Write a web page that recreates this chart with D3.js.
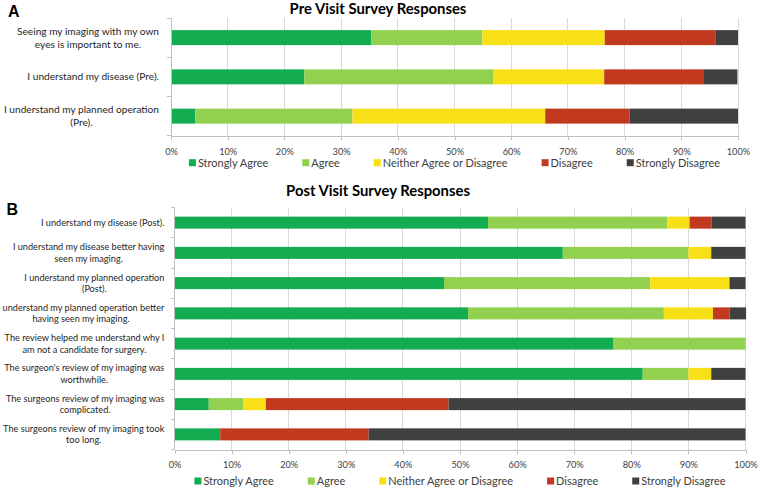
<!DOCTYPE html>
<html><head><meta charset="utf-8">
<script src="https://cdn.jsdelivr.net/npm/d3@7"></script>
<style>body{margin:0;background:#fff} svg{display:block}</style>
</head><body>
<svg id="chart" width="760" height="488"></svg>
<script>
// ---------- data ----------
const seriesNames = ["Strongly Agree", "Agree", "Neither Agree or Disagree", "Disagree", "Strongly Disagree"];
const seriesColors = ["#13AC50", "#92D050", "#F8E016", "#C1391F", "#404040"];
const tickValues = [0, 10, 20, 30, 40, 50, 60, 70, 80, 90, 100];
const tickLabels = ["0%", "10%", "20%", "30%", "40%", "50%", "60%", "70%", "80%", "90%", "100%"];

const preTitle = "Pre Visit Survey Responses";
const preCategories = [
  "Seeing my imaging with my own\neyes is important to me.",
  "I understand my disease (Pre).",
  "I understand my planned operation\n(Pre)."
];
const preStronglyAgree    = [35.3, 23.5, 4.3];
const preAgree            = [19.6, 33.3, 27.7];
const preNeither          = [21.6, 19.6, 34.0];
const preDisagree         = [19.6, 17.6, 14.9];
const preStronglyDisagree = [3.9, 5.9, 19.1];

const postTitle = "Post Visit Survey Responses";
const postCategories = [
  "I understand my disease (Post).",
  "I understand my disease better having\nseen my imaging.",
  "I understand my planned operation\n(Post).",
  "I understand my planned operation better\nhaving seen my imaging.",
  "The review helped me understand why I\nam not a candidate for surgery.",
  "The surgeon's review of my imaging was\nworthwhile.",
  "The surgeons review of my imaging was\ncomplicated.",
  "The surgeons review of my imaging took\ntoo long."
];
const postStronglyAgree    = [54.9, 68.0, 47.2, 51.4, 76.9, 82.0, 6.0, 8.0];
const postAgree            = [31.4, 22.0, 36.1, 34.3, 23.1, 8.0, 6.0, 0];
const postNeither          = [3.9, 4.0, 13.9, 8.6, 0, 4.0, 4.0, 0];
const postDisagree         = [3.9, 0, 0, 2.9, 0, 0, 32.0, 26.0];
const postStronglyDisagree = [5.9, 6.0, 2.8, 2.9, 0, 6.0, 52.0, 66.0];

// ---------- drawing ----------
const FONT = "Lato, 'Open Sans', 'Noto Sans', sans-serif";
const svg = d3.select("#chart");

function fitSize(text, target, weight) {
  const t = svg.append("text").attr("font-family", FONT).attr("font-size", 100)
    .attr("font-weight", weight || 400).text(text);
  const w = t.node().getComputedTextLength();
  t.remove();
  return 100 * target / w;
}
const tickSize = fitSize("100%", 23.5);
const legendSize = fitSize("Neither Agree or Disagree", 125);
const titleSize = fitSize(preTitle, 177, 700);

function drawPanel(cfg) {
  const keys = seriesNames;
  const rows = cfg.categories.map((c, i) => {
    const r = {cat: c};
    cfg.series.forEach((s, k) => r[keys[k]] = s[i]);
    return r;
  });
  const stacked = d3.stack().keys(keys)(rows);

  const x = d3.scaleLinear().domain([0, 100]).range(cfg.xRange);
  const y = d3.scaleBand().domain(cfg.categories).range(cfg.yRange)
    .paddingInner(cfg.pad).paddingOuter(cfg.pad / 2);
  const g = svg.append("g");

  // gridlines
  g.append("g").selectAll("line").data(tickValues.slice(1)).join("line")
    .attr("x1", d => x(d)).attr("x2", d => x(d))
    .attr("y1", cfg.yRange[0]).attr("y2", cfg.yRange[1])
    .attr("stroke", "#D9D9D9").attr("stroke-width", 1).attr("shape-rendering", "crispEdges");

  // bars
  g.append("g").selectAll("g").data(stacked).join("g")
    .attr("fill", (d, i) => seriesColors[i])
    .selectAll("rect").data(d => d).join("rect")
    .attr("x", d => x(d[0])).attr("width", d => x(d[1]) - x(d[0]))
    .attr("y", d => y(d.data.cat)).attr("height", y.bandwidth());

  // left axis with boundary ticks
  const bounds = d3.range(cfg.categories.length + 1).map(i => cfg.yRange[0] + i * y.step());
  const la = g.append("g").attr("stroke", "#BFBFBF").attr("shape-rendering", "crispEdges");
  la.append("line").attr("x1", x(0)).attr("x2", x(0)).attr("y1", cfg.yRange[0]).attr("y2", cfg.yRange[1]);
  la.selectAll("line.t").data(bounds).join("line").attr("class", "t")
    .attr("x1", x(0) - 4).attr("x2", x(0)).attr("y1", d => d).attr("y2", d => d);

  // bottom axis
  const ax = g.append("g").attr("transform", `translate(0,${cfg.yRange[1]})`)
    .call(d3.axisBottom(x).tickValues(tickValues).tickFormat((d, i) => tickLabels[i]).tickSize(4).tickSizeOuter(0));
  ax.select(".domain").attr("stroke", "#BFBFBF").attr("shape-rendering", "crispEdges");
  ax.selectAll(".tick line").attr("stroke", "#BFBFBF").attr("shape-rendering", "crispEdges");
  ax.selectAll("text").attr("y", cfg.tickOffset).attr("dy", "0.35em")
    .attr("font-family", FONT).attr("font-size", tickSize).attr("fill", "#404040");

  // category labels
  const labelSize = fitSize(cfg.refLabel, cfg.refLabelWidth);
  cfg.categories.forEach(c => {
    const lines = c.split("\n");
    const t = g.append("text").attr("font-family", FONT).attr("font-size", labelSize)
      .attr("fill", "#262626").attr("text-anchor", "middle");
    const spans = lines.map(l => t.append("tspan").text(l));
    const maxW = d3.max(spans, s => s.node().getComputedTextLength());
    const cx = cfg.labelRight - maxW / 2;
    const cy = y(c) + y.bandwidth() / 2;
    spans.forEach((s, i) => s.attr("x", cx)
      .attr("y", cy + (i - (lines.length - 1) / 2) * cfg.lineHeight).attr("dy", "0.35em"));
  });

  // title
  svg.append("text").attr("x", 378).attr("y", cfg.titleY).attr("text-anchor", "middle")
    .attr("font-family", FONT).attr("font-weight", 700).attr("font-size", titleSize)
    .attr("fill", "#000").text(cfg.title);

  // panel letter
  svg.append("text").attr("x", cfg.letterX).attr("y", cfg.letterY)
    .attr("font-family", "'Liberation Sans', Arial, sans-serif").attr("font-weight", 700)
    .attr("font-size", 16).attr("fill", "#000").text(cfg.letter);

  // legend
  const lg = svg.append("g");
  let cur = 0;
  seriesNames.forEach((n, i) => {
    const it = lg.append("g").attr("transform", `translate(${cur},0)`);
    it.append("rect").attr("x", 0).attr("y", -3.5).attr("width", 7).attr("height", 7).attr("fill", seriesColors[i]);
    const t = it.append("text").attr("x", 9).attr("y", 0).attr("dy", "0.35em")
      .attr("font-family", FONT).attr("font-size", legendSize).attr("fill", "#404040").text(n);
    cur += 9 + t.node().getComputedTextLength() + 34;
  });
  const total = cur - 34;
  const mid = (cfg.xRange[0] + cfg.xRange[1]) / 2;
  lg.attr("transform", `translate(${mid - total / 2},${cfg.legendY})`);
}

drawPanel({
  categories: preCategories,
  series: [preStronglyAgree, preAgree, preNeither, preDisagree, preStronglyDisagree],
  xRange: [171, 738], yRange: [18, 135.75], pad: 0.618,
  tickOffset: 16, labelRight: 159, refLabel: "Seeing my imaging with my own", refLabelWidth: 142,
  lineHeight: 12.7, title: preTitle, titleY: 13.5, letter: "A", letterX: 8, letterY: 17.3, legendY: 162.7
});
drawPanel({
  categories: postCategories,
  series: [postStronglyAgree, postAgree, postNeither, postDisagree, postStronglyDisagree],
  xRange: [174.5, 745.5], yRange: [207.5, 449.5], pad: 0.603,
  tickOffset: 15, labelRight: 164.3, refLabel: "I understand my disease better having", refLabelWidth: 151.6,
  lineHeight: 11.5, title: postTitle, titleY: 196, letter: "B", letterX: 6.5, letterY: 214.5, legendY: 481
});
</script>
</body></html>
